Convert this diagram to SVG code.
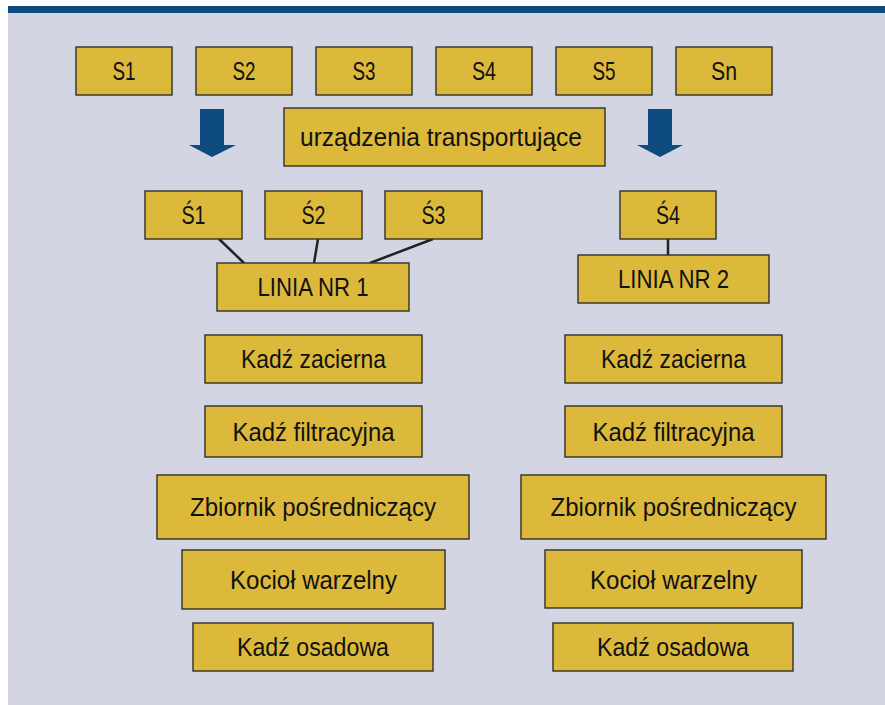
<svg xmlns="http://www.w3.org/2000/svg" width="885" height="705" viewBox="0 0 885 705">
<style>
.box{fill:#dcb93b;stroke:#2f2f2a;stroke-width:1.4}
.t{font-family:"Liberation Sans",Arial,sans-serif;font-size:26px;fill:#111;text-anchor:middle}
.arr{fill:#0d4a7e}
.con{stroke:#222;stroke-width:2.5;fill:none}
</style>
<rect x="0" y="0" width="885" height="705" fill="#ffffff"/>
<rect x="8" y="12" width="877" height="693" fill="#d3d5e2"/>
<rect x="8" y="6" width="877" height="7" fill="#0d4a7e"/>
<g id="connectors">
<line class="con" x1="219" y1="239" x2="244" y2="263"/>
<line class="con" x1="318" y1="239" x2="314" y2="263"/>
<line class="con" x1="433" y1="239" x2="370" y2="263"/>
<line class="con" x1="668" y1="239" x2="668" y2="255"/>
<polygon class="arr" points="200,109 224,109 224,145 236,145 212,157 189,145 200,145"/>
<polygon class="arr" points="648,109 672,109 672,145 683,145 660,157 637,145 648,145"/>
</g>
<g id="s1"><rect class="box" x="76" y="47" width="96" height="48"/><text class="t" x="124" y="80" textLength="23" lengthAdjust="spacingAndGlyphs">S1</text></g>
<g id="s2"><rect class="box" x="196" y="47" width="96" height="48"/><text class="t" x="244" y="80" textLength="23" lengthAdjust="spacingAndGlyphs">S2</text></g>
<g id="s3"><rect class="box" x="316" y="47" width="96" height="48"/><text class="t" x="364" y="80" textLength="23" lengthAdjust="spacingAndGlyphs">S3</text></g>
<g id="s4"><rect class="box" x="436" y="47" width="96" height="48"/><text class="t" x="484" y="80" textLength="24" lengthAdjust="spacingAndGlyphs">S4</text></g>
<g id="s5"><rect class="box" x="556" y="47" width="96" height="48"/><text class="t" x="604" y="80" textLength="23" lengthAdjust="spacingAndGlyphs">S5</text></g>
<g id="sn"><rect class="box" x="676" y="47" width="96" height="48"/><text class="t" x="724" y="80" textLength="26" lengthAdjust="spacingAndGlyphs">Sn</text></g>
<g id="transport"><rect class="box" x="284" y="108" width="321" height="58"/><text class="t" x="441" y="146" textLength="282" lengthAdjust="spacingAndGlyphs">urządzenia transportujące</text></g>
<g id="ss1"><rect class="box" x="145" y="191" width="97" height="48"/><text class="t" x="193.5" y="224" textLength="24" lengthAdjust="spacingAndGlyphs">Ś1</text></g>
<g id="ss2"><rect class="box" x="265" y="191" width="97" height="48"/><text class="t" x="313.5" y="224" textLength="24" lengthAdjust="spacingAndGlyphs">Ś2</text></g>
<g id="ss3"><rect class="box" x="385" y="191" width="97" height="48"/><text class="t" x="433.5" y="224" textLength="24" lengthAdjust="spacingAndGlyphs">Ś3</text></g>
<g id="ss4"><rect class="box" x="620" y="191" width="96" height="48"/><text class="t" x="668" y="224" textLength="24" lengthAdjust="spacingAndGlyphs">Ś4</text></g>
<g id="linia1"><rect class="box" x="217" y="263" width="192" height="48"/><text class="t" x="313" y="296" textLength="111" lengthAdjust="spacingAndGlyphs">LINIA NR 1</text></g>
<g id="linia2"><rect class="box" x="578" y="255" width="191" height="48"/><text class="t" x="673.5" y="288" textLength="111" lengthAdjust="spacingAndGlyphs">LINIA NR 2</text></g>
<g id="zacierna1"><rect class="box" x="205" y="335" width="217" height="48"/><text class="t" x="313.5" y="368" textLength="145" lengthAdjust="spacingAndGlyphs">Kadź zacierna</text></g>
<g id="filtracyjna1"><rect class="box" x="205" y="406" width="217" height="51"/><text class="t" x="313.5" y="441" textLength="162" lengthAdjust="spacingAndGlyphs">Kadź filtracyjna</text></g>
<g id="zbiornik1"><rect class="box" x="157" y="475" width="312" height="64"/><text class="t" x="313" y="516" textLength="246" lengthAdjust="spacingAndGlyphs">Zbiornik pośredniczący</text></g>
<g id="kociol1"><rect class="box" x="182" y="550" width="263" height="59"/><text class="t" x="313.5" y="589" textLength="167" lengthAdjust="spacingAndGlyphs">Kocioł warzelny</text></g>
<g id="osadowa1"><rect class="box" x="193" y="623" width="240" height="48"/><text class="t" x="313" y="656" textLength="152" lengthAdjust="spacingAndGlyphs">Kadź osadowa</text></g>
<g id="zacierna2"><rect class="box" x="565" y="335" width="217" height="48"/><text class="t" x="673.5" y="368" textLength="145" lengthAdjust="spacingAndGlyphs">Kadź zacierna</text></g>
<g id="filtracyjna2"><rect class="box" x="565" y="406" width="217" height="51"/><text class="t" x="673.5" y="441" textLength="162" lengthAdjust="spacingAndGlyphs">Kadź filtracyjna</text></g>
<g id="zbiornik2"><rect class="box" x="521" y="475" width="305" height="64"/><text class="t" x="673.5" y="516" textLength="246" lengthAdjust="spacingAndGlyphs">Zbiornik pośredniczący</text></g>
<g id="kociol2"><rect class="box" x="545" y="550" width="257" height="58"/><text class="t" x="673.5" y="589" textLength="167" lengthAdjust="spacingAndGlyphs">Kocioł warzelny</text></g>
<g id="osadowa2"><rect class="box" x="553" y="623" width="240" height="48"/><text class="t" x="673" y="656" textLength="152" lengthAdjust="spacingAndGlyphs">Kadź osadowa</text></g>
</svg>
